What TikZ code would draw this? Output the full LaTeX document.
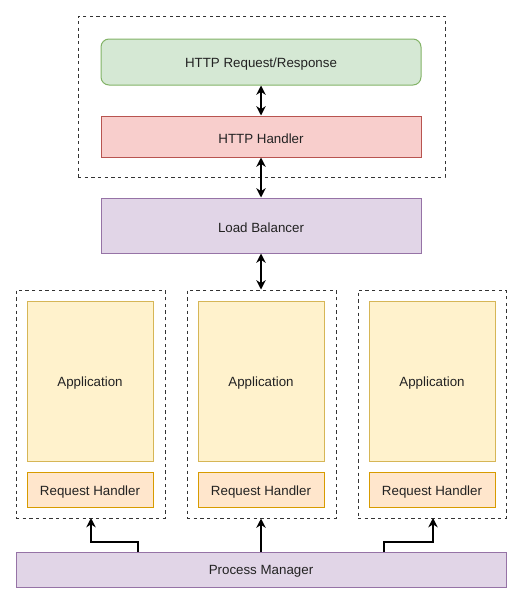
\documentclass[tikz,border=0pt]{standalone}
\usepackage{fontspec}
\setmainfont{Liberation Sans}
\usetikzlibrary{fit,arrows.meta}
\definecolor{gfill}{HTML}{D5E8D4}\definecolor{gline}{HTML}{82B366}
\definecolor{rfill}{HTML}{F8CECC}\definecolor{rline}{HTML}{B85450}
\definecolor{pfill}{HTML}{E1D5E7}\definecolor{pline}{HTML}{9673A6}
\definecolor{yfill}{HTML}{FFF2CC}\definecolor{yline}{HTML}{D6B656}
\definecolor{ofill}{HTML}{FFE6CC}\definecolor{oline}{HTML}{D79B00}
\definecolor{txt}{HTML}{222222}
\tikzset{
  lbl/.style={text=txt, font=\fontsize{10pt}{12pt}\selectfont, inner sep=0pt, yshift=-1.6pt},
  box/.style={inner sep=0pt, line width=0.75pt},
  gbox/.style={box, draw=gline, fill=gfill, rounded corners=6pt},
  rbox/.style={box, draw=rline, fill=rfill},
  pbox/.style={box, draw=pline, fill=pfill},
  ybox/.style={box, draw=yline, fill=yfill},
  obox/.style={box, draw=oline, fill=ofill},
  cont/.style={inner sep=0pt, draw=black!80, line width=0.75pt, dash pattern=on 2.5pt off 2.5pt},
  tip/.tip={Stealth[length=7pt,width=7pt]},
  conn/.style={line width=1.1pt, -tip},
  dconn/.style={line width=1.1pt, tip-tip},
}
\begin{document}
\begin{tikzpicture}[x=0.75pt,y=-0.75pt]
\useasboundingbox (0,0) rectangle (520,600);
% top container
\node[cont, fit={(78,16)(445,177)}] (top) {};
\node[gbox, fit={(101,39)(421,85)}, label={[lbl]center:HTTP Request/Response}] (http) {};
\node[rbox, fit={(101,116)(421,157)}, label={[lbl]center:HTTP Handler}] (hh) {};
\node[pbox, fit={(101,198)(421,253)}, label={[lbl]center:Load Balancer}] (lb) {};
% containers
\node[cont, fit={(16,290)(165,518)}] (c1) {};
\node[cont, fit={(187,290)(336,518)}] (c2) {};
\node[cont, fit={(358,290)(506,518)}] (c3) {};
\node[ybox, fit={(27,301)(153,461)}, label={[lbl]center:Application}] (a1) {};
\node[ybox, fit={(198,301)(324,461)}, label={[lbl]center:Application}] (a2) {};
\node[ybox, fit={(369,301)(495,461)}, label={[lbl]center:Application}] (a3) {};
\node[obox, fit={(27,472)(153,507)}, label={[lbl]center:Request Handler}] (r1) {};
\node[obox, fit={(198,472)(324,507)}, label={[lbl]center:Request Handler}] (r2) {};
\node[obox, fit={(369,472)(495,507)}, label={[lbl]center:Request Handler}] (r3) {};
\node[pbox, fit={(16,552)(506,587)}, label={[lbl]center:Process Manager}] (pm) {};
% connectors
\draw[dconn] (http.south) -- (hh.north);
\draw[dconn] (hh.south) -- (lb.north);
\draw[dconn] (lb.south) -- (lb.south |- c2.north);
\coordinate (p1) at (138,552);
\coordinate (p3) at (384,552);
\draw[conn] (p1) -- (138,542) -- (91,542) -- (91,518);
\draw[conn] (lb.south |- pm.north) -- (lb.south |- c2.south);
\draw[conn] (p3) -- (384,542) -- (433,542) -- (433,518);
\end{tikzpicture}
\end{document}
